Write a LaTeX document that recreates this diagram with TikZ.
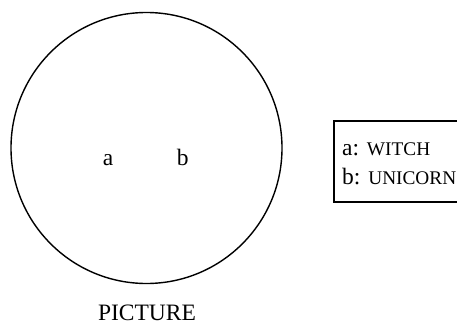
\documentclass[tikz,border=0pt]{standalone}
\usepackage{fontspec}
\setmainfont{Liberation Serif}
\usetikzlibrary{positioning}

\newcommand{\fakesc}[1]{{\fontsize{19.3}{23}\selectfont #1}}

\tikzset{
    txt/.style={font=\fontsize{23.5}{28.2}\selectfont, inner sep=0pt},
    pic circle/.style={draw, circle, line width=1.4pt, minimum size=271pt, inner sep=0pt},
    legend box/.style={draw, line width=1.4pt, minimum width=134pt, minimum height=81pt, inner sep=0pt}
}

\begin{document}
\begin{tikzpicture}[x=1pt,y=1pt]

\useasboundingbox (0,0) rectangle (457,325);

% Picture
\node[pic circle] (pic) at (146.5,177) {};
\node[txt,anchor=base] (a) at (108,159.3) {a};
\node[txt,anchor=base] (b) at (182.7,159.3) {b};
\node[txt,anchor=base] (caption) at (147,5) {PICTURE};

% Legend
\node[legend box] (legend) at (401,163.5) {};
\node[txt,anchor=base west] (witch) at (342,169.5) {a: \fakesc{WITCH}};
\node[txt,anchor=base west] (unicorn) at (342,141) {b: \fakesc{UNICORN}};

\end{tikzpicture}
\end{document}
